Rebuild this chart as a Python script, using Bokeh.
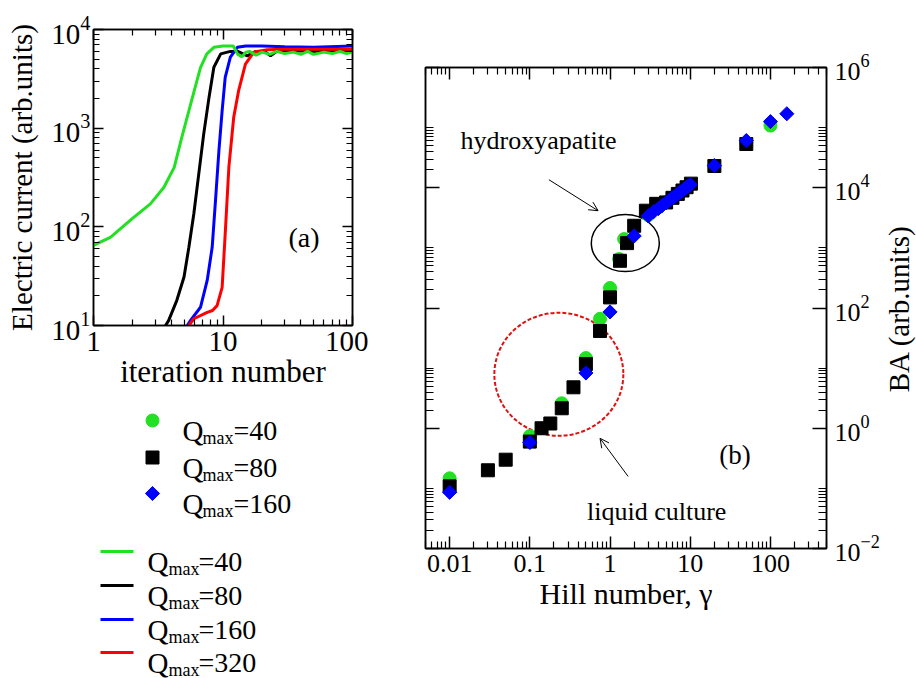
import math
from bokeh.plotting import figure
from bokeh.models import (Range1d, FixedTicker, LogAxis, LogTickFormatter,
                          CustomJSTickFormatter, Label, Arrow, OpenHead)
from bokeh.layouts import row, column
from bokeh.embed import file_html
from bokeh.resources import INLINE
from bokeh.core.properties import value

FONT = "Liberation Serif"
GREEN = "#22e022"

# ---------------- panel (a): electric current vs iteration ----------------
iter_q40 = [1, 1.35, 2, 2.75, 3.5, 4.2, 4.8, 5.45, 6.1, 6.7, 7.5, 8.5, 10, 12,
            13, 14, 15, 16, 18, 20, 23, 26, 30, 35, 40, 45, 50, 60, 70, 80, 90, 100]
cur_q40 = [65, 78, 122, 171, 252, 400, 800, 1500, 2600, 4100, 5650, 6600, 6800, 6800,
           5600, 5300, 5900, 6000, 5500, 5900, 5600, 6000, 5700, 5900, 5600, 6000, 5600,
           5900, 5700, 6000, 5700, 5900]
iter_q80 = [3.6, 3.8, 4.4, 5.0, 5.45, 5.95, 6.5, 7.1, 7.8, 8.5, 9.6, 11.4, 13, 15.4,
            18, 21, 23.3, 26, 30, 40, 50, 70, 100]
cur_q80 = [10, 11.2, 18, 31, 62, 135, 344, 875, 2050, 4140, 5660, 6000, 6000, 5400,
           6000, 6000, 5400, 6000, 6000, 6100, 6000, 6100, 6100]
iter_q160 = [5.3, 5.6, 6.7, 7.55, 8.25, 8.75, 9.3, 9.85, 10.4, 11.4, 12.9, 15, 20,
             30, 50, 100]
cur_q160 = [10, 11.2, 15.3, 28.6, 62, 184, 593, 1507, 3280, 5250, 6600, 6800, 6800,
            6700, 6600, 6800]
iter_q320 = [5.45, 5.95, 7.55, 8.3, 9.0, 9.85, 10.4, 11.1, 12.1, 13.2, 14.9, 17.3,
             22, 30, 50, 100]
cur_q320 = [10, 11.7, 13.6, 14.2, 15.9, 24.4, 85, 402, 1290, 2400, 4460, 5900,
            6250, 6300, 6300, 6300]

a_xticks = [1, 10, 100]
a_xminor = [2, 3, 4, 5, 6, 7, 8, 9, 20, 30, 40, 50, 60, 70, 80, 90]
a_yticks = [10, 100, 1000, 10000]
a_yminor = [20, 30, 40, 50, 60, 70, 80, 90, 200, 300, 400, 500, 600, 700, 800, 900,
            2000, 3000, 4000, 5000, 6000, 7000, 8000, 9000]

# ---------------- panel (b): BA vs Hill number ----------------
hill_q40 = [0.01, 0.1, 0.25, 0.5, 0.75, 1, 1.3, 1.5, 3, 4, 5, 6, 7, 8, 9, 10, 20, 50, 100]
ba_q40 = [0.147, 0.74, 2.6, 14.7, 66, 215, 650, 1400, 3500, 4700, 5800, 6900, 8000,
          9100, 10200, 11300, 23300, 56000, 108000]
hill_q80 = [0.01, 0.03, 0.05, 0.1, 0.14, 0.18, 0.25, 0.35, 0.5, 0.75, 1, 1.33, 1.63,
            2, 2.8, 3.76, 5, 6, 7, 8, 9, 10.2, 20, 50]
ba_q80 = [0.108, 0.2, 0.3, 0.6, 1.0, 1.2, 2.15, 4.8, 11.7, 41.5, 150, 610, 1200,
          2330, 4150, 5400, 5700, 6800, 7900, 9000, 10200, 11700, 23000, 53400]
hill_q160 = [0.01, 0.1, 0.5, 1, 2, 3, 3.5, 4, 4.5, 5, 5.5, 6, 6.5, 7, 7.5, 8, 8.5,
             9, 9.5, 10, 20, 50, 100, 160]
ba_q160 = [0.086, 0.58, 8.3, 86, 1580, 3400, 4000, 4500, 5100, 5600, 6200, 6800,
           7300, 7900, 8500, 9000, 9600, 10200, 10700, 11300, 23300, 61000, 126000, 170000]

b_xticks = [0.01, 0.1, 1, 10, 100]
b_xminor = [0.005, 0.006, 0.007, 0.008, 0.009,
            0.02, 0.03, 0.04, 0.05, 0.06, 0.07, 0.08, 0.09,
            0.2, 0.3, 0.4, 0.5, 0.6, 0.7, 0.8, 0.9,
            2, 3, 4, 5, 6, 7, 8, 9, 20, 30, 40, 50, 60, 70, 80, 90,
            200, 300, 400, 500]
b_yticks = [1e-2, 1, 1e2, 1e4, 1e6]
b_yminor = [0.02, 0.03, 0.04, 0.05, 0.06, 0.07, 0.08, 0.09, 0.1,
            2, 3, 4, 5, 6, 7, 8, 9, 10,
            200, 300, 400, 500, 600, 700, 800, 900, 1000,
            2e4, 3e4, 4e4, 5e4, 6e4, 7e4, 8e4, 9e4, 1e5]

legend_q_points = ["40", "80", "160"]
legend_q_lines = ["40", "80", "160", "320"]


def style_axis(ax, maj, mnr, fs):
    ax.major_tick_in = maj
    ax.major_tick_out = 0
    ax.minor_tick_in = mnr
    ax.minor_tick_out = 0
    ax.axis_line_width = 1.5
    ax.axis_line_color = "black"
    ax.major_tick_line_width = 1.5
    ax.minor_tick_line_width = 1.2
    ax.major_tick_line_color = "black"
    ax.minor_tick_line_color = "black"
    ax.major_label_text_font = FONT
    ax.major_label_text_font_size = fs
    ax.major_label_text_color = "black"
    ax.axis_label_text_font = FONT
    ax.axis_label_text_font_style = "normal"
    ax.axis_label_text_color = "black"


def blank_axis(ticks, minor, maj, mnr):
    ax = LogAxis(ticker=FixedTicker(ticks=ticks, minor_ticks=minor),
                 formatter=CustomJSTickFormatter(code="return ''"))
    style_axis(ax, maj, mnr, "1px")
    ax.major_label_standoff = 0
    return ax


def bare(p):
    p.axis.visible = False
    p.grid.visible = False
    p.outline_line_color = None
    p.background_fill_color = "white"
    p.border_fill_color = "white"


# ---------------- figure (a) ----------------
pa = figure(width=368, height=398, x_axis_type="log", y_axis_type="log",
            x_range=Range1d(1, 100), y_range=Range1d(10, 1e4),
            output_backend="svg", toolbar_location=None,
            min_border_left=93, min_border_top=29, min_border_right=16, min_border_bottom=73)
pa.grid.visible = False
pa.outline_line_color = "black"
pa.outline_line_width = 1.5
pa.background_fill_color = "white"
pa.border_fill_color = "white"

pa.xaxis.ticker = FixedTicker(ticks=a_xticks, minor_ticks=a_xminor)
pa.xaxis.formatter = CustomJSTickFormatter(code="return tick.toString()")
pa.yaxis.ticker = FixedTicker(ticks=a_yticks, minor_ticks=a_yminor)
pa.yaxis.formatter = LogTickFormatter()
for ax in pa.xaxis:
    style_axis(ax, 10, 6, "29px")
    ax.axis_label = "iteration number"
    ax.axis_label_text_font_size = "31px"
    ax.major_label_standoff = 6
    ax.axis_label_standoff = 0
for ax in pa.yaxis:
    style_axis(ax, 10, 6, "29px")
    ax.axis_label = "Electric current (arb.units)"
    ax.axis_label_text_font_size = "29px"
    ax.major_label_standoff = 3
    ax.axis_label_standoff = 10
pa.add_layout(blank_axis(a_xticks, a_xminor, 10, 6), "above")
pa.add_layout(blank_axis(a_yticks, a_yminor, 10, 6), "right")

pa.line(iter_q80, cur_q80, line_color="black", line_width=3)
pa.line(iter_q160, cur_q160, line_color="blue", line_width=3)
pa.line(iter_q320, cur_q320, line_color="red", line_width=3)
pa.line(iter_q40, cur_q40, line_color=GREEN, line_width=3)
pa.add_layout(Label(x=32, y=78, text="(a)", text_font=FONT, text_font_size="28px",
                    text_color="black", text_baseline="alphabetic"))

# ---------------- legend figure (below panel a) ----------------
# frame aligned with panel (a) frame; coordinates are page pixels
pl = figure(width=368, height=280, x_range=Range1d(93, 352), y_range=Range1d(280, 0),
            output_backend="svg", toolbar_location=None,
            min_border_left=93, min_border_right=16, min_border_top=0, min_border_bottom=0)
bare(pl)

pt_rows = [22, 59, 95]
pl.scatter([152], [pt_rows[0]], marker="circle", size=13, color=GREEN)
pl.scatter([152], [pt_rows[1]], marker="square", size=13, color="black")
pl.scatter([152], [pt_rows[2]], marker="square", size=10, angle=0.785398, color="blue")
pl.text([182] * 3, [r + 10 for r in pt_rows], text=["Q"] * 3, text_color="black",
        text_font=value(FONT), text_font_size="29px", text_baseline="alphabetic")
pl.text([202] * 3, [r + 17 for r in pt_rows], text=["max"] * 3, text_color="black",
        text_font=value(FONT), text_font_size="18px", text_baseline="alphabetic")
pl.text([233] * 3, [r + 10 for r in pt_rows], text=["=" + q for q in legend_q_points],
        text_color="black", text_font=value(FONT), text_font_size="28px",
        text_baseline="alphabetic")

ln_rows = [153, 187, 221, 254]
ln_cols = [GREEN, "black", "blue", "red"]
pl.segment(x0=[100] * 4, y0=ln_rows, x1=[133] * 4, y1=ln_rows, line_color=ln_cols, line_width=3)
pl.text([147] * 4, [r + 10 for r in ln_rows], text=["Q"] * 4, text_color="black",
        text_font=value(FONT), text_font_size="29px", text_baseline="alphabetic")
pl.text([168] * 4, [r + 17 for r in ln_rows], text=["max"] * 4, text_color="black",
        text_font=value(FONT), text_font_size="18px", text_baseline="alphabetic")
pl.text([198] * 4, [r + 10 for r in ln_rows], text=["=" + q for q in legend_q_lines],
        text_color="black", text_font=value(FONT), text_font_size="28px",
        text_baseline="alphabetic")

# ---------------- figure (b) ----------------
pb = figure(width=514, height=678, x_axis_type="log", y_axis_type="log",
            x_range=Range1d(0.005, 500), y_range=Range1d(1e-2, 1e6),
            y_axis_location="right",
            output_backend="svg", toolbar_location=None,
            min_border_left=57, min_border_top=67, min_border_right=56, min_border_bottom=130)
pb.grid.visible = False
pb.outline_line_color = "black"
pb.outline_line_width = 1.5
pb.background_fill_color = "white"
pb.border_fill_color = "white"

pb.xaxis.ticker = FixedTicker(ticks=b_xticks, minor_ticks=b_xminor)
pb.xaxis.formatter = CustomJSTickFormatter(code="return tick.toString()")
pb.yaxis.ticker = FixedTicker(ticks=b_yticks, minor_ticks=b_yminor)
pb.yaxis.formatter = LogTickFormatter()
for ax in pb.xaxis:
    style_axis(ax, 12, 7, "26px")
    ax.axis_label = "Hill number, γ"
    ax.axis_label_text_font_size = "30px"
    ax.major_label_standoff = 6
    ax.axis_label_standoff = 2
for ax in pb.yaxis:
    style_axis(ax, 14, 8, "26px")
    ax.major_label_standoff = 8
pb.add_layout(blank_axis(b_xticks, b_xminor, 12, 7), "above")
pb.add_layout(blank_axis(b_yticks, b_yminor, 14, 8), "left")

# annotations: ellipses and arrows
pb.ellipse(x=[1.55], y=[1200], width=68, height=57, width_units="screen",
           height_units="screen", fill_color=None, line_color="black", line_width=1.5)
pb.ellipse(x=[0.23], y=[7.9], width=129, height=123, width_units="screen",
           height_units="screen", fill_color=None, line_color="#e01010", line_width=2,
           line_dash="4 2")

pb.scatter(hill_q40, ba_q40, marker="circle", size=13, color=GREEN)
pb.scatter(hill_q80, ba_q80, marker="square", size=13, color="black")
pb.scatter(hill_q160, ba_q160, marker="square", size=10, angle=0.785398, color="blue")

pb.add_layout(Arrow(end=OpenHead(size=9, line_width=1), x_start=0.173, y_start=13600,
                    x_end=0.71, y_end=4150, line_width=1))
pb.add_layout(Arrow(end=OpenHead(size=9, line_width=1), x_start=1.68, y_start=0.158,
                    x_end=0.75, y_end=0.68, line_width=1))
pb.add_layout(Label(x=0.0137, y=61000, text="hydroxyapatite", text_font=FONT,
                    text_color="black", text_font_size="26px", text_baseline="alphabetic"))
pb.add_layout(Label(x=0.516, y=0.041, text="liquid culture", text_font=FONT,
                    text_color="black", text_font_size="26px", text_baseline="alphabetic"))
pb.add_layout(Label(x=23, y=0.355, text="(b)", text_font=FONT, text_color="black",
                    text_font_size="27px", text_baseline="alphabetic"))

# ---------------- narrow strip holding the right-hand axis title of (b) ----------------
pt = figure(width=34, height=678, x_range=Range1d(0, 34), y_range=Range1d(0, 481),
            output_backend="svg", toolbar_location=None,
            min_border_left=0, min_border_right=0, min_border_top=67, min_border_bottom=130)
bare(pt)
pt.text([16], [240], text=["BA (arb.units)"], angle=math.pi / 2, text_color="black",
        text_font=value(FONT), text_font_size="29px", text_align="center",
        text_baseline="middle")

layout = row(column(pa, pl), pb, pt)
open("out.html", "w").write(file_html(layout, INLINE))
